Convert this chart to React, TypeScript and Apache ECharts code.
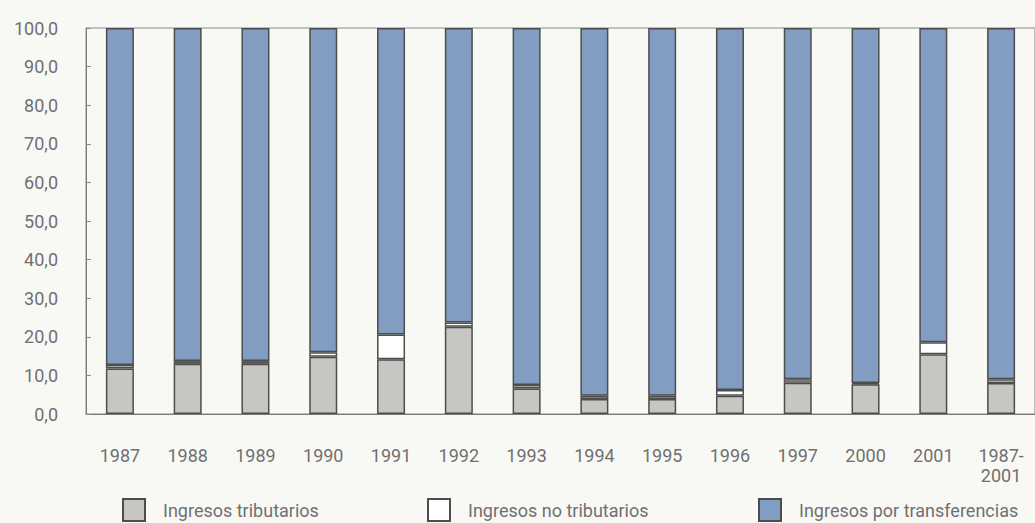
import React, { useEffect, useRef } from "react";
import * as echarts from "echarts";

const categories = ["1987", "1988", "1989", "1990", "1991", "1992", "1993", "1994", "1995", "1996", "1997", "2000", "2001", "1987-\n2001"];
const tributarios = [11.8, 13.0, 13.0, 14.8, 14.2, 22.6, 6.6, 3.9, 3.9, 4.7, 8.1, 7.7, 15.5, 8.0];
const noTributarios = [0.9, 0.7, 0.7, 1.2, 6.4, 1.1, 0.9, 0.8, 0.8, 1.5, 0.9, 0.3, 3.1, 1.0];
const transferencias = [87.3, 86.3, 86.3, 84.0, 79.4, 76.3, 92.5, 95.3, 95.3, 93.8, 91.0, 92.0, 81.4, 91.0];
const yTicks = [0, 10, 20, 30, 40, 50, 60, 70, 80, 90, 100];
const seriesNames = ["Ingresos tributarios", "Ingresos no tributarios", "Ingresos por transferencias"];

export default function App() {
  const ref = useRef<HTMLDivElement>(null);
  useEffect(() => {
    if (!ref.current) return;
    const chart = echarts.init(ref.current, null, { renderer: "svg" });
    const textColor = "#707070";
    const border = "#4d4d4d";
    const font = "Roboto, sans-serif";
    const legendBase = {
      orient: "horizontal" as const,
      top: 498,
      padding: 0,
      itemWidth: 22,
      itemHeight: 22,
      icon: "rect",
      selectedMode: false,
      textStyle: { color: textColor, fontSize: 18, fontFamily: font, padding: [0, 0, 0, 13] },
    };
    chart.setOption({
      animation: false,
      backgroundColor: "#f8f9f5",
      grid: { left: 86, right: -4, top: 28, bottom: 109, show: true, borderColor: "#8a8a8a", borderWidth: 1 },
      legend: [
        { ...legendBase, left: 122, data: [seriesNames[0]] },
        { ...legendBase, left: 427, data: [seriesNames[1]] },
        { ...legendBase, left: 758, data: [seriesNames[2]] },
      ],
      xAxis: {
        type: "category",
        data: categories,
        axisLine: { lineStyle: { color: "#7a7a7a", width: 1 } },
        axisTick: { inside: true, length: 4, lineStyle: { color: "#8a8a8a" } },
        axisLabel: { color: textColor, fontSize: 18, fontFamily: font, margin: 31, lineHeight: 20, interval: 0 },
      },
      yAxis: {
        type: "value",
        min: yTicks[0],
        max: yTicks[yTicks.length - 1],
        interval: 10,
        axisLine: { show: true, lineStyle: { color: "#7a7a7a", width: 1 } },
        axisTick: { show: true, inside: true, length: 5, lineStyle: { color: "#8a8a8a" } },
        splitLine: { show: false },
        axisLabel: {
          color: textColor,
          fontSize: 18,
          fontFamily: font,
          margin: 28,
          formatter: (v: number) => v.toFixed(1).replace(".", ","),
        },
      },
      series: [
        {
          name: seriesNames[0],
          type: "bar",
          stack: "total",
          barWidth: 28,
          data: tributarios,
          itemStyle: { color: "#c6c6c3", borderColor: border, borderWidth: 1.5 },
        },
        {
          name: seriesNames[1],
          type: "bar",
          stack: "total",
          barWidth: 28,
          data: noTributarios,
          itemStyle: { color: "#ffffff", borderColor: border, borderWidth: 1.5 },
        },
        {
          name: seriesNames[2],
          type: "bar",
          stack: "total",
          barWidth: 28,
          data: transferencias,
          itemStyle: { color: "#819dc2", borderColor: border, borderWidth: 1.5 },
        },
      ],
    });
    return () => chart.dispose();
  }, []);
  return (
    <div
      ref={ref}
      style={{ position: "fixed", left: 0, top: 0, width: 1035, height: 523 }}
    />
  );
}
